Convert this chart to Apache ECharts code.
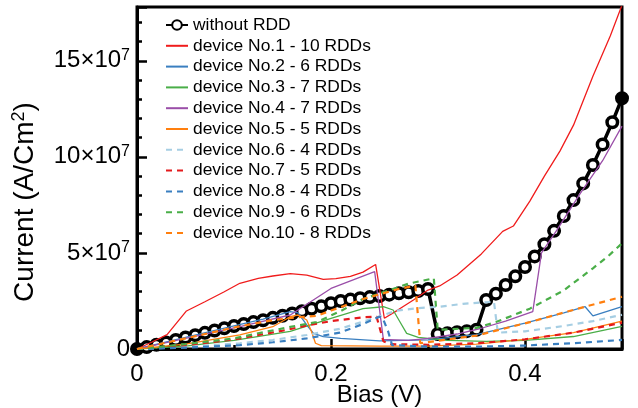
<!DOCTYPE html>
<html>
<head>
<meta charset="utf-8">
<script src="https://cdn.jsdelivr.net/npm/echarts@6/dist/echarts.min.js"></script>
<style>html,body{margin:0;padding:0;background:#fff}#c{width:638px;height:408px}</style>
</head>
<body>
<div id="c"></div>
<script>
// Bias (V) vs Current (units of 1e7 A/cm^2)
const seriesNames = ['without RDD','device No.1 - 10 RDDs','device No.2 - 6 RDDs','device No.3 - 7 RDDs','device No.4 - 7 RDDs','device No.5 - 5 RDDs','device No.6 - 4 RDDs','device No.7 - 5 RDDs','device No.8 - 4 RDDs','device No.9 - 6 RDDs','device No.10 - 8 RDDs'];
const xTickLabels = ['0','0.2','0.4'];
const yTickLabels = ['0','5','10','15'];

const biasWithout = [0,0.01,0.02,0.03,0.04,0.05,0.06,0.07,0.08,0.09,0.10,0.11,0.12,0.13,0.14,0.15,0.16,0.17,0.18,0.19,0.20,0.21,0.22,0.23,0.24,0.25,0.26,0.27,0.28,0.29,0.30,0.31,0.32,0.33,0.34,0.35,0.36,0.37,0.38,0.39,0.40,0.41,0.42,0.43,0.44,0.45,0.46,0.47,0.48,0.49,0.50];
const currentWithout = [0,0.1,0.22,0.34,0.47,0.6,0.72,0.84,0.96,1.08,1.2,1.3,1.4,1.5,1.62,1.73,1.85,1.97,2.1,2.22,2.38,2.5,2.57,2.64,2.7,2.76,2.83,2.9,2.95,3.02,3.12,0.78,0.82,0.87,0.93,1.0,2.55,2.88,3.33,3.78,4.27,4.82,5.45,6.15,6.92,7.75,8.62,9.58,10.65,11.8,13.05];

const dev1 = [[0,0],[0.015,0.35],[0.031,0.75],[0.051,1.98],[0.07,2.46],[0.09,2.98],[0.106,3.42],[0.125,3.68],[0.14,3.8],[0.158,3.92],[0.175,3.85],[0.192,3.62],[0.205,3.66],[0.22,3.78],[0.233,4.0],[0.246,4.4],[0.255,1.6],[0.268,2.0],[0.285,2.55],[0.3,3.07],[0.312,3.28],[0.33,3.85],[0.355,4.95],[0.377,6.12],[0.388,6.4],[0.405,7.7],[0.42,9.0],[0.436,10.3],[0.45,11.65],[0.47,14.2],[0.488,16.3],[0.5,17.9]];
const dev2 = [[0,0],[0.05,0.6],[0.1,1.2],[0.13,1.55],[0.158,1.94],[0.166,1.88],[0.175,1.25],[0.182,0.81],[0.192,0.64],[0.21,0.55],[0.25,0.42],[0.3,0.48],[0.35,0.75],[0.4,1.35],[0.44,1.88],[0.462,2.2],[0.47,1.72],[0.5,2.2]];
const dev3 = [[0,0],[0.05,0.15],[0.1,0.45],[0.158,0.92],[0.2,1.6],[0.233,2.1],[0.254,2.2],[0.264,2.03],[0.271,1.42],[0.278,0.81],[0.29,0.6],[0.32,0.45],[0.36,0.4],[0.4,0.45],[0.45,0.65],[0.5,1.18]];
const dev4 = [[0,0],[0.05,0.55],[0.106,1.16],[0.158,1.77],[0.2,3.15],[0.245,4.03],[0.254,0.5],[0.28,0.45],[0.3,0.55],[0.33,0.78],[0.355,1.08],[0.38,1.45],[0.408,1.95],[0.417,5.0],[0.433,6.2],[0.457,8.1],[0.48,9.8],[0.5,11.6]];
const dev5 = [[0,0],[0.05,0.25],[0.106,0.73],[0.14,1.16],[0.158,1.68],[0.166,1.77],[0.175,1.51],[0.18,0.9],[0.184,0.3],[0.19,0.18],[0.25,0.15],[0.3,0.15],[0.35,0.25],[0.4,0.5],[0.45,0.85],[0.5,1.45]];
const dev6 = [[0,0],[0.05,0.1],[0.106,0.3],[0.14,0.47],[0.175,0.73],[0.209,1.05],[0.233,1.42],[0.268,2.0],[0.288,2.12],[0.312,2.2],[0.336,2.35],[0.368,2.46],[0.372,0.85],[0.4,0.92],[0.44,1.2],[0.47,1.45],[0.5,1.78]];
const dev7 = [[0,0],[0.05,0.2],[0.1,0.5],[0.15,0.95],[0.175,1.22],[0.2,1.45],[0.233,1.65],[0.247,1.68],[0.254,0.4],[0.262,0.25],[0.3,0.22],[0.35,0.3],[0.4,0.5],[0.45,0.85],[0.5,1.37]];
const dev8 = [[0,0],[0.05,0.07],[0.106,0.2],[0.14,0.35],[0.175,0.55],[0.209,0.85],[0.233,1.3],[0.25,1.68],[0.253,1.65],[0.259,0.9],[0.263,0.2],[0.3,0.12],[0.35,0.12],[0.4,0.18],[0.45,0.3],[0.5,0.47]];
const dev9 = [[0,0],[0.05,0.25],[0.1,0.55],[0.123,0.8],[0.158,1.15],[0.185,1.4],[0.209,1.95],[0.233,2.6],[0.28,3.4],[0.306,3.68],[0.31,1.0],[0.35,1.1],[0.37,1.4],[0.405,2.1],[0.44,3.05],[0.47,4.2],[0.485,4.8],[0.5,5.5]];
const dev10 = [[0,0],[0.05,0.55],[0.1,1.12],[0.14,1.5],[0.165,1.65],[0.185,1.72],[0.2,2.0],[0.233,2.6],[0.268,3.1],[0.287,3.3],[0.292,0.3],[0.35,0.7],[0.405,1.4],[0.44,1.9],[0.5,2.72]];

const deviceData = [dev1,dev2,dev3,dev4,dev5,dev6,dev7,dev8,dev9,dev10];
const deviceColors = ['#f01c1c','#3a7fc0','#4aae48','#9a4ea8','#ff7f0e','#a6cee3','#e41a1c','#3a7fc0','#4aae48','#ff7f0e'];
const deviceDashed = [false,false,false,false,false,true,true,true,true,true];

const FONT = 'Liberation Sans';
const chart = echarts.init(document.getElementById('c'), null, {renderer:'canvas'});

const blackData = biasWithout.map((x,i)=>{
  const item = {value:[x,currentWithout[i]]};
  if (i===0 || i===biasWithout.length-1) item.itemStyle = {color:'#000'};
  return item;
});

const series = [{
  name: seriesNames[0], type:'line', data: blackData,
  symbol:'circle', symbolSize:10.5, showSymbol:true,
  lineStyle:{color:'#000', width:3.5},
  itemStyle:{color:'#fff', borderColor:'#000', borderWidth:3.5},
  z: 2, animation:false
}];
deviceData.forEach((d,k)=>{
  series.push({
    name: seriesNames[k+1], type:'line', data: d, symbol:'none',
    lineStyle:{color:deviceColors[k], width: deviceDashed[k]?2.2:1.3, type: deviceDashed[k]?[6,5]:'solid'},
    itemStyle:{color:deviceColors[k]},
    z: 3, animation:false
  });
});

const legendData = seriesNames.map((n,i)=> i===0 ? {name:n} : {name:n, itemStyle:{color:'rgba(0,0,0,0)', borderWidth:0, opacity:0}});
const supStyle = {fontFamily:FONT, fontSize:16, color:'#000', verticalAlign:'top', padding:[0,0,11,0]};

chart.setOption({
  animation:false,
  grid:{left:137, right:16, top:7, bottom:59, outerBoundsMode:'none', containLabel:false, show:true, borderColor:'#000', borderWidth:3, backgroundColor:'#fff'},
  legend:{
    orient:'vertical', left:165, top:15, padding:0, itemWidth:22, itemHeight:12, itemGap:0.8,
    textStyle:{fontFamily:FONT, fontSize:17.4, color:'#000', lineHeight:20},
    data: legendData
  },
  graphic:[{
    type:'text', x:25, y:202, rotation:Math.PI/2,
    style:{text:'Current (A/Cm{sup|2})', fontFamily:FONT, fontSize:28, fill:'#000', align:'center', verticalAlign:'middle',
      rich:{sup:{fontFamily:FONT, fontSize:18, fill:'#000', verticalAlign:'top', padding:[0,0,12,0]}}}
  }],
  xAxis:{
    type:'value', min:0, max:0.5, interval:0.2,
    axisLine:{show:true, lineStyle:{color:'#000', width:3}},
    axisTick:{show:true, inside:true, length:10, lineStyle:{color:'#000', width:2.5}},
    minorTick:{show:true, splitNumber:2, length:4, lineStyle:{color:'#000', width:2.5}},
    splitLine:{show:false},
    axisLabel:{fontFamily:FONT, fontSize:24, color:'#000', margin:13,
      formatter:(v)=>{const i=Math.round(v/0.2); return xTickLabels[i]!==undefined && Math.abs(v-i*0.2)<1e-6 ? xTickLabels[i] : '';}},
    name:'Bias (V)', nameLocation:'middle', nameGap:34, nameMoveOverlap:false,
    nameTextStyle:{fontFamily:FONT, fontSize:24, color:'#000'}
  },
  yAxis:{
    type:'value', min:0, max:17.8, interval:5,
    axisLine:{show:true, lineStyle:{color:'#000', width:3}},
    axisTick:{show:true, inside:true, length:10, lineStyle:{color:'#000', width:2.5}},
    minorTick:{show:true, splitNumber:5, length:5, lineStyle:{color:'#000', width:2.5}},
    splitLine:{show:false},
    axisLabel:{fontFamily:FONT, fontSize:24, color:'#000', margin:7,
      formatter:(v)=>{const i=Math.round(v/5); if (Math.abs(v-i*5)>1e-6 || yTickLabels[i]===undefined) return ''; return i===0 ? '0' : yTickLabels[i]+'×10{sup|7}';},
      rich:{sup:supStyle}}
  },
  series: series
});
</script>
</body>
</html>
